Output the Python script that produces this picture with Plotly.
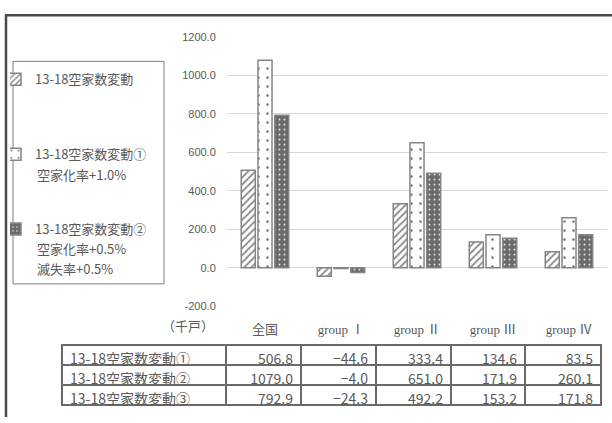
import plotly.graph_objects as go

# Categories and series (thousand dwellings)
categories = ["全国", "group Ⅰ", "group Ⅱ", "group Ⅲ", "group Ⅳ"]
series_names = ["13-18空家数変動", "13-18空家数変動①", "13-18空家数変動②"]
series_notes = [[], ["空家化率+1.0%"], ["空家化率+0.5%", "滅失率+0.5%"]]
table_labels = ["13-18空家数変動①", "13-18空家数変動②", "13-18空家数変動③"]

change_base = [506.8, -44.6, 333.4, 134.6, 83.5]
change_case1 = [1079.0, -4.0, 651.0, 171.9, 260.1]
change_case2 = [792.9, -24.3, 492.2, 153.2, 171.8]
series_values = [change_base, change_case1, change_case2]

y_ticks = [-200, 0, 200, 400, 600, 800, 1000, 1200]

W, H = 612, 423
TXT = "#595959"
CJK_SANS = "Noto Sans CJK JP"
SERIF = "Liberation Serif, Noto Sans CJK JP"

def px(x):
    return x / W

def py(y):
    return 1 - y / H

# Bar styles: hatched, sparse dots on white, dark with light dots
styles = [
    dict(color="white",
         pattern=dict(shape="/", fgcolor="#8a8a8a", bgcolor="white", size=5, solidity=0.35, fillmode="replace")),
    dict(color="white",
         pattern=dict(shape=".", fgcolor="#6f6f6f", bgcolor="white", size=9, solidity=0.06, fillmode="replace")),
    dict(color="#6a6a6a",
         pattern=dict(shape=".", fgcolor="#e8e8e8", bgcolor="#6a6a6a", size=5, solidity=0.12, fillmode="replace")),
]

fig = go.Figure()
for i, (name, vals, st) in enumerate(zip(series_names, series_values, styles)):
    fig.add_trace(go.Bar(
        x=categories, y=vals, name=name, legendgroup=f"g{i}",
        marker=dict(color=st["color"], pattern=st["pattern"],
                    line=dict(color="#858585", width=1.5)),
        xaxis="x", yaxis="y",
    ))

def fmt(v):
    return f"{v:.1f}".replace("-", "−")

# Data table beneath the chart: first row rendered as the table header
columns = [table_labels] + [[fmt(s[j]) for s in series_values] for j in range(len(categories))]
header_vals = [c[0] for c in columns]
cell_vals = [c[1:] for c in columns]
line_style = dict(color="#6a6a6a", width=2)
tfont = dict(family=CJK_SANS, size=14, color=TXT)
fig.add_trace(go.Table(
    domain=dict(x=[px(62), px(601)], y=[py(421), py(349)]),
    columnwidth=[164, 75, 75, 75, 74, 76],
    header=dict(values=header_vals, height=20, fill_color="white", line=line_style,
                font=tfont, align=["left"] + ["right"] * 5),
    cells=dict(values=cell_vals, height=20, fill_color="white", line=line_style,
               font=tfont, align=["left"] + ["right"] * 5),
))

shapes = [
    # outer frame (top and left edges)
    dict(type="line", xref="paper", yref="paper", x0=px(5), x1=1.0, y0=py(9.5), y1=py(9.5),
         line=dict(color="#4a4a4a", width=2.5)),
    dict(type="line", xref="paper", yref="paper", x0=px(6), x1=px(6), y0=py(9), y1=0,
         line=dict(color="#4a4a4a", width=2.5)),
    # legend box
    dict(type="rect", xref="paper", yref="paper", x0=px(13), x1=px(164), y0=py(286), y1=py(57),
         line=dict(color="#7f7f7f", width=1), fillcolor="rgba(0,0,0,0)"),
]

annotations = [
    dict(text="（千戸）", xref="paper", yref="paper", x=px(216), y=py(330),
         xanchor="right", yanchor="middle", showarrow=False,
         font=dict(family=SERIF, size=13, color=TXT)),
]
note_y = {1: [173], 2: [250, 270]}
for i, notes in enumerate(series_notes):
    for k, t in enumerate(notes):
        annotations.append(dict(text=t, xref="paper", yref="paper", x=px(35), y=py(note_y[i][k]),
                                xanchor="left", yanchor="middle", showarrow=False,
                                font=dict(family=CJK_SANS, size=13, color=TXT)))

fig.update_layout(
    width=W, height=H, autosize=False,
    margin=dict(l=0, r=0, t=0, b=0, pad=0),
    paper_bgcolor="white", plot_bgcolor="white",
    barmode="group", bargap=0.34, bargroupgap=0.16,
    showlegend=True,
    legend=dict(x=px(10), y=py(60), xanchor="left", yanchor="top",
                bgcolor="rgba(0,0,0,0)", borderwidth=0,
                font=dict(family=CJK_SANS, size=13, color=TXT),
                traceorder="grouped", tracegroupgap=55, indentation=-15,
                itemclick=False),
    xaxis=dict(domain=[px(227), px(607)], type="category",
               showgrid=False, showline=False, zeroline=False,
               ticks="outside", ticklen=11, tickcolor="rgba(0,0,0,0)",
               tickfont=dict(family=SERIF, size=13, color=TXT)),
    yaxis=dict(domain=[py(309), py(32)], range=[-200, 1200],
               tickvals=y_ticks, ticktext=[f"{v:.1f}" for v in y_ticks],
               showgrid=True, gridcolor="#d9d9d9", gridwidth=1,
               zeroline=True, zerolinecolor="#d9d9d9", zerolinewidth=1,
               showline=False,
               ticks="outside", ticklen=8, tickcolor="rgba(0,0,0,0)",
               tickfont=dict(family="Liberation Sans", size=11, color=TXT)),
    shapes=shapes,
    annotations=annotations,
)

fig.write_html("out.html")
